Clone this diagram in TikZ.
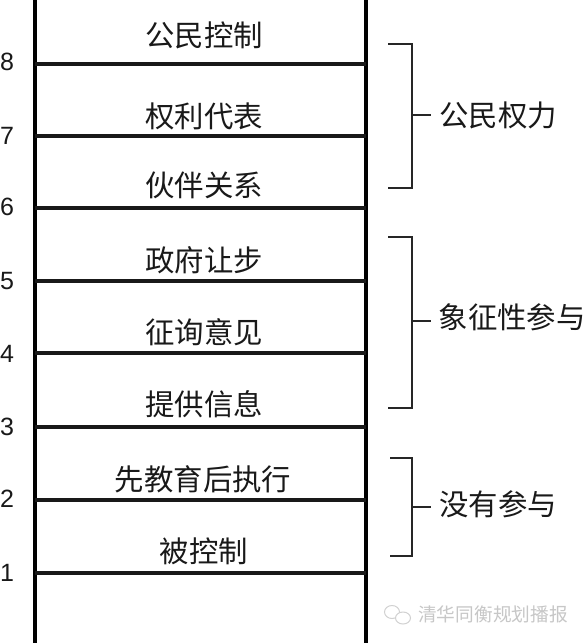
\documentclass[tikz,border=0pt]{standalone}
\usepackage{fontspec}
\setmainfont{Liberation Sans}
\newfontfamily\cjk{Noto Sans CJK SC}
\tikzset{
  rail/.style={line width=4pt,black},
  rung/.style={line width=3.6pt,black!90},
  brace/.style={line width=1.7pt,black!85},
  lbl/.style={inner sep=0pt,font=\cjk\fontsize{29.4}{29.4}\selectfont,text=black!90},
  num/.style={inner sep=0pt,font=\fontsize{25}{25}\selectfont,text=black!90},
  wmark/.style={inner sep=0pt,font=\cjk\fontsize{18.7}{18.7}\selectfont,text=black!22},
  bubble/.style={line width=1pt,black!18}
}
\begin{document}
\begin{tikzpicture}[x=1pt,y=-1pt]
\useasboundingbox (0,0) rectangle (585,643);
\fill[white] (0,0) rectangle (585,643);
\coordinate (ltop) at (35,0); \coordinate (lbot) at (35,643);
\coordinate (rtop) at (366,0); \coordinate (rbot) at (366,643);
\draw[rail] (ltop) -- (lbot);
\draw[rail] (rtop) -- (rbot);
\foreach \n/\y/\ny in {8/64/62,7/136/136,6/208/207,5/281/281,4/353/354,3/427/427,2/500/499,1/573/573}{
  \coordinate (l\n) at (35,\y);
  \coordinate (r\n) at (366,\y);
  \draw[rung] (l\n) -- (r\n);
  \node[num] (n\n) at (7,\ny) {\n};
}
\node[lbl] (a8) at (204,35) {公民控制};
\node[lbl] (a7) at (204,116) {权利代表};
\node[lbl] (a6) at (204,185) {伙伴关系};
\node[lbl] (a5) at (204,260) {政府让步};
\node[lbl] (a4) at (204,332) {征询意见};
\node[lbl] (a3) at (204,404) {提供信息};
\node[lbl] (a2) at (203,479) {先教育后执行};
\node[lbl] (a1) at (204,551) {被控制};
\node[lbl,anchor=west] (g1) at (439,115) {公民权力};
\node[lbl,anchor=west] (g2) at (438.5,317) {象征性参与};
\node[lbl,anchor=west] (g3) at (439,504) {没有参与};
\foreach \k/\t/\b/\m/\s in {1/44/188/115/388,2/237/408/321/388,3/458/556/507/390}{
  \coordinate (bt\k) at (\s,\t); \coordinate (bb\k) at (\s,\b);
  \coordinate (bm\k) at (412,\m); \coordinate (be\k) at (431,\m);
  \draw[brace] (bt\k) -| (bb\k -| bm\k) -- (bb\k);
  \draw[brace] (bm\k) -- (be\k);
}
\node[wmark,anchor=west] (wm) at (418,614) {清华同衡规划播报};
\draw[bubble] (392,612) ellipse (7.5 and 6.5);
\draw[bubble,fill=white] (403,618) ellipse (7.5 and 6);
\end{tikzpicture}
\end{document}
